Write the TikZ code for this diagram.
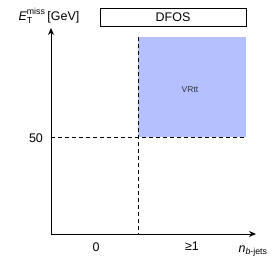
\documentclass[tikz,border=0pt]{standalone}
\usepackage{amsmath}
\usepackage{fontspec}
\setmainfont{Liberation Sans}
\usetikzlibrary{arrows.meta}
\definecolor{regblue}{RGB}{180,192,255}
\begin{document}
\begin{tikzpicture}[x=1pt,y=-1pt,
  axis/.style={line width=1pt,-{Stealth[length=7pt,width=6pt]}},
  cut/.style={line width=0.9pt,dash pattern=on 4pt off 3pt},
  lbl/.style={inner sep=0pt,font=\fontsize{12.5}{14}\selectfont}]
\useasboundingbox (0,0) rectangle (278,266);
\fill[regblue] (138,37) rectangle (246,137);
\coordinate (o) at (51,234);
\coordinate (ytop) at (51,28);
\coordinate (xend) at (256,234);
\coordinate (v1) at (138,37);
\coordinate (v2) at (138,234);
\coordinate (h1) at (51,137);
\coordinate (h2) at (246,137);
\draw[cut] (v1) -- (v2);
\draw[cut] (h1) -- (h2);
\draw[axis] (o) -- (ytop);
\draw[axis] (o) -- (xend);
\node[lbl] (ylab) at (49,16) {$\textit{E}_{\text{T}}^{\text{miss}}$\,[GeV]};
\node[draw,line width=0.8pt,minimum width=146pt,minimum height=18pt,inner sep=0pt,font=\fontsize{12.5}{14}\selectfont] (dfos) at (173,17) {DFOS};
\node[inner sep=0pt,text=black!80,font=\fontsize{8.5}{10}\selectfont] (vr) at (190,90) {VRtt};
\node[lbl] (l50) at (36,138) {50};
\node[lbl] (l0) at (96,247) {0};
\node[lbl] (l1) at (192,246) {≥1};
\node[lbl] (nb) at (253,251) {$\textit{n}_{\textit{b}\text{-jets}}$};
\end{tikzpicture}
\end{document}
